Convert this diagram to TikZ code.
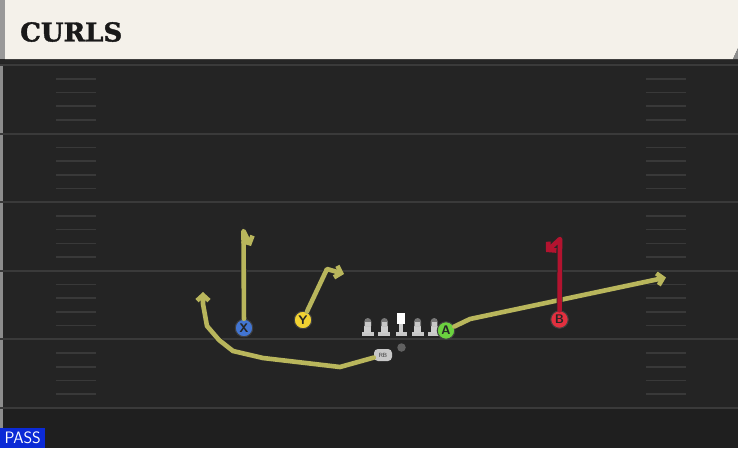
\documentclass[tikz,border=0pt]{standalone}
\usepackage{fontspec}
\usepackage{tikz}
\usetikzlibrary{positioning,arrows.meta}
\newfontfamily\titlefont{DejaVu Serif}[BoldFeatures={FakeBold=1.5}]

\definecolor{field}{HTML}{242424}
\definecolor{fieldlow}{HTML}{1F1F1F}
\definecolor{yardline}{HTML}{3A3A3A}
\definecolor{hashmark}{HTML}{393939}
\definecolor{header}{HTML}{F4F1EA}
\definecolor{route}{HTML}{B9B65C}
\definecolor{redroute}{HTML}{B3132F}
\definecolor{xblue}{HTML}{4275D2}
\definecolor{yyellow}{HTML}{F2D232}
\definecolor{agreen}{HTML}{6BD13F}
\definecolor{bred}{HTML}{E2303F}
\definecolor{lmgray}{HTML}{C8C8C8}
\definecolor{passblue}{HTML}{0B2AD6}

\tikzset{
	player/.style={circle,draw=black!75,line width=1pt,minimum size=17.5pt,inner sep=0pt,
		font=\sffamily\bfseries\fontsize{12.5}{12.5}\selectfont,text=black!85},
	routeline/.style={preaction={draw=black!85,line width=6.2pt},draw=#1,line width=4.6pt,
		line cap=round,line join=round,-{Straight Barb[length=5.5pt,width=12pt]}},
	lineman/.style={minimum width=13pt,minimum height=18pt,inner sep=0pt,
		path picture={
			\fill[lmgray] ([shift={(-6pt,-9pt)}]path picture bounding box.center) rectangle ++(12pt,3.8pt);
			\fill[lmgray!90!white] ([shift={(-3.5pt,-5.5pt)}]path picture bounding box.center) rectangle ++(7pt,7pt);
			\fill[lmgray!60!black] ([shift={(-3.5pt,1pt)}]path picture bounding box.center) -- ++(0pt,4.5pt)
				arc[start angle=180,end angle=0,radius=3.5pt] -- ++(0pt,-4.5pt) -- cycle;
			\fill[lmgray] ([shift={(-2.7pt,1pt)}]path picture bounding box.center) rectangle ++(5.4pt,4pt);
		}},
	center/.style={minimum width=13pt,minimum height=24pt,inner sep=0pt,
		path picture={
			\fill[lmgray] ([shift={(-5.5pt,-12pt)}]path picture bounding box.center) rectangle ++(11pt,3.8pt);
			\fill[lmgray!90!white] ([shift={(-2pt,-8.5pt)}]path picture bounding box.center) rectangle ++(4pt,8.5pt);
			\fill[white] ([shift={(-4.3pt,0pt)}]path picture bounding box.center) rectangle ++(8.6pt,11pt);
		}}
}

\begin{document}
\begin{tikzpicture}[x=1pt,y=-1pt,node distance=16.6pt,on grid]
	\useasboundingbox (0,0) rectangle (738,448);
	% field
	\fill[field] (0,0) rectangle (738,448);
	\fill[fieldlow] (0,408) rectangle (738,448);
	\fill[black!45] (0,65) rectangle (2.5,448);
	\foreach \y in {65,133.6,202.2,270.8,339.4,408}
		\draw[yardline,line width=2pt] (0,\y) -- (738,\y);
	\foreach \y in {65,133.6,202.2,270.8,339.4}
		\foreach \k in {1,...,4} {
			\draw[hashmark,line width=1.6pt] (56,\y+13.72*\k) -- (96,\y+13.72*\k);
			\draw[hashmark,line width=1.6pt] (646,\y+13.72*\k) -- (686,\y+13.72*\k);
		}
	% header
	\fill[black!85] (0,59) rectangle (738,63);
	\fill[black!40] (0,0) rectangle (5,59);
	\fill[header] (5,0) -- (738,0) -- (738,48) -- (733,59) -- (5,59) -- cycle;
	\fill[black!45] (738,48) -- (738,59) -- (733,59) -- cycle;
	\node[anchor=west,inner sep=0pt,text=black!90] (title) at (20,32)
		{\titlefont\bfseries\fontsize{26}{26}\selectfont CURLS};
	% offense
	\node[center] (c) at (401,324) {};
	\node[lineman,left=of c,yshift=-3pt] (lg) {};
	\node[lineman,left=of lg] (lt) {};
	\node[lineman,right=of c,yshift=-3pt] (rg) {};
	\node[lineman,right=of rg] (rt) {};
	\node[circle,fill=black!62,minimum size=8.5pt,inner sep=0pt] (qb) at (401.5,347.5) {};
	\node[fill=lmgray,rounded corners=4pt,minimum width=18pt,minimum height=12pt,inner sep=0pt,
		font=\sffamily\fontsize{6}{6}\selectfont,text=black!80] (rb) at (383,355) {RB};
	\node[player,fill=xblue] (x) at (244,328) {X};
	\node[player,fill=yyellow] (y) at (303,320) {Y};
	\node[player,fill=agreen] (a) at (446,330.5) {A};
	\node[player,fill=bred] (b) at (559.5,319.5) {B};
	% routes
	\draw[routeline=route] (rb) -- (340,367) -- (263,358) -- (233,351) -- (219,340)
		-- (207,326) -- (203,304) -- (203,292);
	\draw[routeline=route] (x) -- (243.5,231) -- (251,246);
	\draw[routeline=route] (y) -- (327,269) -- (344,274);
	\draw[routeline=route] (a) -- (470,319) -- (666,277.5);
	\draw[routeline=redroute] (b) -- (560,239) -- (546,252);
	% play type
	\node[fill=passblue,minimum width=45pt,minimum height=20pt,inner sep=0pt,anchor=south west,
		font=\sffamily\fontsize{16.5}{16.5}\selectfont,text=white] (pass) at (0,448) {PASS};
\end{tikzpicture}
\end{document}
